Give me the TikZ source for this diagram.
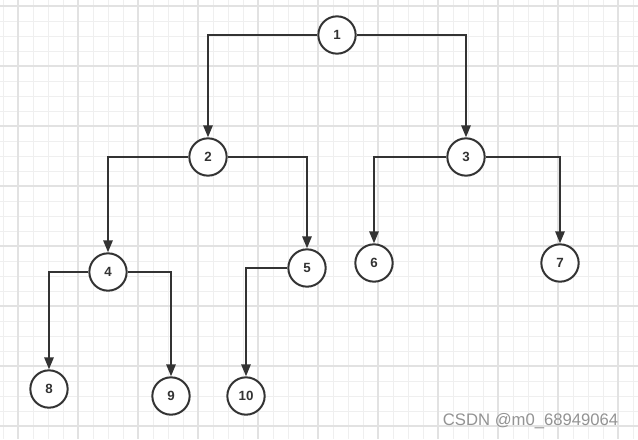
\documentclass[tikz,border=0pt]{standalone}
\usepackage{fontspec}
\setmainfont{Liberation Sans}
\usetikzlibrary{arrows.meta}

\definecolor{minorgrid}{HTML}{EFEFEF}
\definecolor{majorgrid}{HTML}{E2E2E2}
\definecolor{inkgray}{HTML}{333333}

\begin{document}
\begin{tikzpicture}[
    x=0.75pt, y=-0.75pt,
    minorline/.style={minorgrid, line width=0.75pt},
    majorline/.style={majorgrid, line width=0.9pt},
    vertex/.style={circle, draw=inkgray, line width=1.5pt, fill=white,
        minimum size=28pt, inner sep=0pt, font=\bfseries\normalsize, text=inkgray},
    link/.style={inkgray, line width=1.5pt,
        -{Triangle[length=9pt, width=7pt]}},
    mark txt/.style={font=\fontsize{12.5}{14}\selectfont, text=gray!85}
]

% Page size
\useasboundingbox (0,0) rectangle (638,439);
\fill[white] (0,0) rectangle (638,439);

% ============================================================
% Background grid
% ============================================================
\foreach \xx in {3,18,...,633} {
    \draw[minorline] (\xx,0) -- (\xx,439);
}
\foreach \yy in {6,21,...,436} {
    \draw[minorline] (0,\yy) -- (638,\yy);
}
\foreach \xx in {18,78,...,618} {
    \draw[majorline] (\xx,0) -- (\xx,439);
}
\foreach \yy in {6,66,...,426} {
    \draw[majorline] (0,\yy) -- (638,\yy);
}

% ============================================================
% Tree nodes
% ============================================================
\node[vertex] (n1) at (337,35) {1};
\node[vertex] (n2) at (208,157) {2};
\node[vertex] (n3) at (466,157) {3};
\node[vertex] (n4) at (108,272) {4};
\node[vertex] (n5) at (307,268) {5};
\node[vertex] (n6) at (374,263) {6};
\node[vertex] (n7) at (560,263) {7};
\node[vertex] (n8) at (49,389) {8};
\node[vertex] (n9) at (171,396) {9};
\node[vertex] (n10) at (246,396) {10};

% ============================================================
% Connectors
% ============================================================
\draw[link] (n1.west) -| (n2.north);
\draw[link] (n1.east) -| (n3.north);
\draw[link] (n2.west) -| (n4.north);
\draw[link] (n2.east) -| (n5.north);
\draw[link] (n3.west) -| (n6.north);
\draw[link] (n3.east) -| (n7.north);
\draw[link] (n4.west) -| (n8.north);
\draw[link] (n4.east) -| (n9.north);
\draw[link] (n5.west) -| (n10.north);

% Watermark
\node[mark txt, anchor=east] (wm) at (623,421) {CSDN @m0\_68949064};
\end{tikzpicture}
\end{document}
